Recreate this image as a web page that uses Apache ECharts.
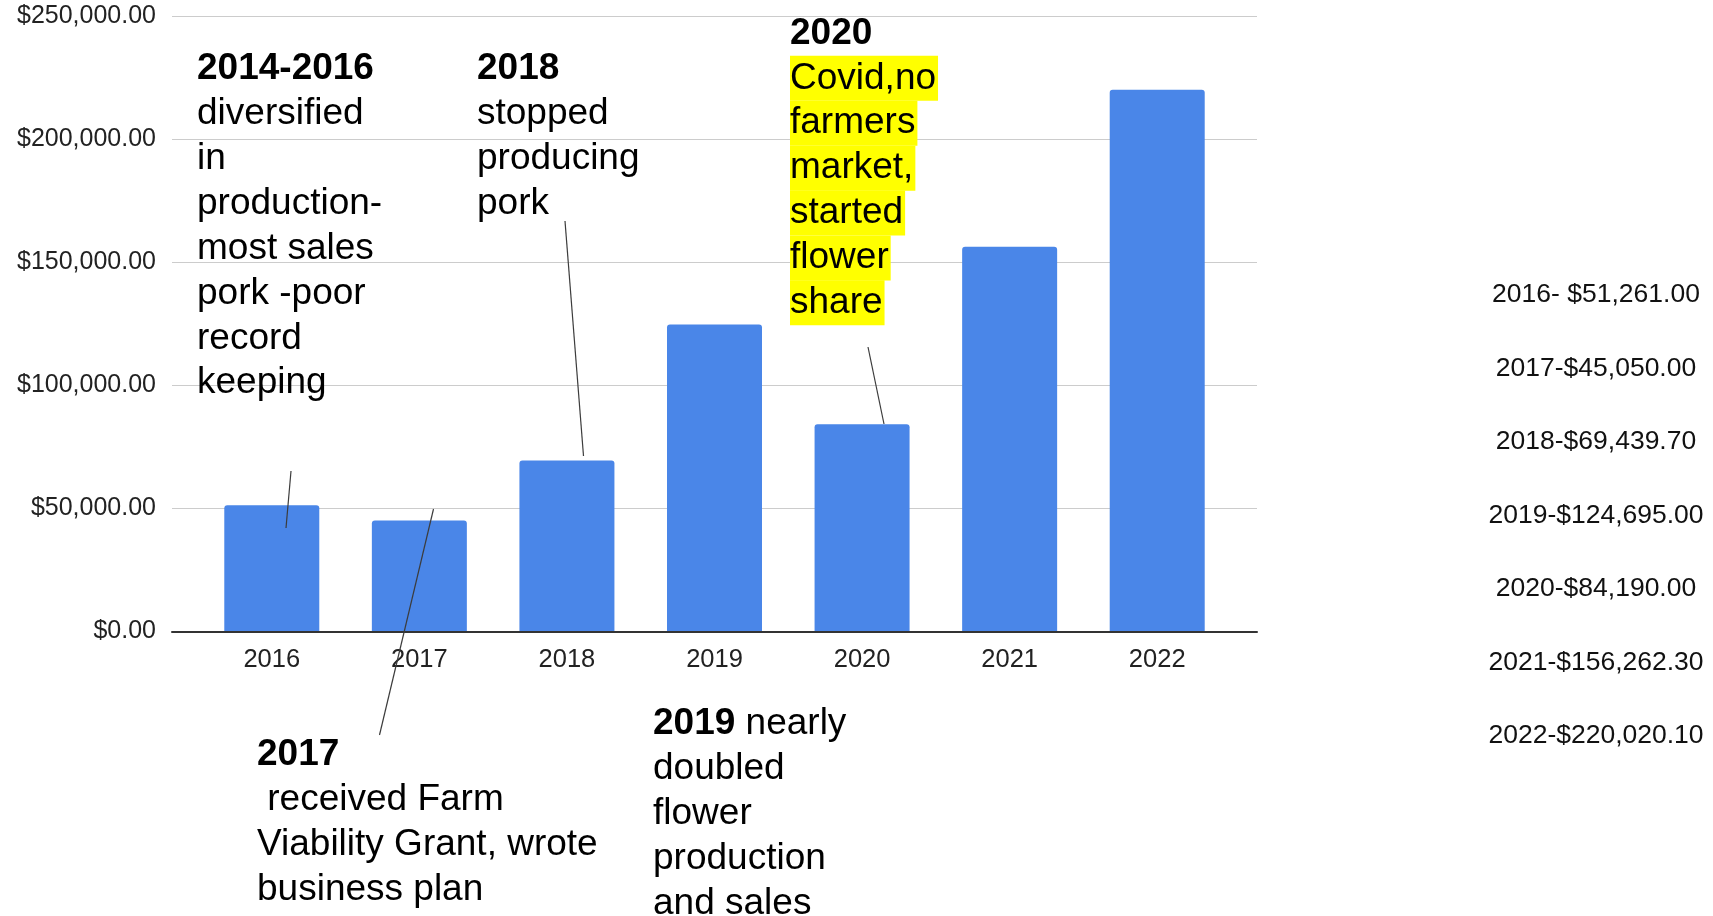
<!DOCTYPE html>
<html>
<head>
<meta charset="utf-8">
<style>
  html, body { margin: 0; padding: 0; background: #ffffff; }
  #chart { width: 1713px; height: 916px; }
</style>
<script src="https://cdn.jsdelivr.net/npm/echarts@6/dist/echarts.min.js"></script>
</head>
<body>
<div id="chart"></div>
<script>
// Yearly farm revenue
const years = ['2016', '2017', '2018', '2019', '2020', '2021', '2022'];
const revenue = [51261.00, 45050.00, 69439.70, 124695.00, 84190.00, 156262.30, 220020.10];

// Value axis range and step
const yMin = 0;
const yMax = 250000;
const yStep = 50000;

// Milestone notes placed around the bars
const noteEarly = ['2014-2016', 'diversified', 'in', 'production-', 'most sales', 'pork -poor', 'record', 'keeping'];
const note2017 = ['2017', ' received Farm', 'Viability Grant, wrote', 'business plan'];
const note2018 = ['2018', 'stopped', 'producing', 'pork'];
const note2019 = ['2019', ' nearly', 'doubled', 'flower', 'production', 'and sales'];
const note2020 = ['2020', 'Covid,no', 'farmers', 'market,', 'started', 'flower', 'share'];

const FONT = "'Liberation Sans', Arial, Helvetica, sans-serif";
const money = v => '$' + v.toLocaleString('en-US', { minimumFractionDigits: 2, maximumFractionDigits: 2 });

// Side list of yearly totals, built from the same values as the bars
const summaryLines = years.map((y, i) => y + (i === 0 ? '- ' : '-') + money(revenue[i]));

const NOTE_SIZE = 37;
const NOTE_LH = 44.9;
const richStyles = {
  b: { fontFamily: FONT, fontSize: NOTE_SIZE, fontWeight: 'bold', lineHeight: NOTE_LH, fill: '#000' },
  r: { fontFamily: FONT, fontSize: NOTE_SIZE, lineHeight: NOTE_LH, fill: '#000' },
  h: { fontFamily: FONT, fontSize: NOTE_SIZE, lineHeight: NOTE_LH, fill: '#000',
       backgroundColor: '#ffff00', padding: [4, 2, 4, 0] }
};

function noteText(x, y, text) {
  return {
    type: 'text', x: x, y: y, z: 10,
    style: { text: text, rich: richStyles, textVerticalAlign: 'top', textAlign: 'left', fill: '#000' }
  };
}
function leader(x1, y1, x2, y2) {
  return {
    type: 'line', z: 11,
    shape: { x1: x1, y1: y1, x2: x2, y2: y2 },
    style: { stroke: '#3c3c3c', lineWidth: 1.2 }
  };
}
const lines = (tag, arr) => arr.map(s => '{' + tag + '|' + s + '}').join('\n');

const chart = echarts.init(document.getElementById('chart'), null, { renderer: 'canvas' });

const option = {
  backgroundColor: '#ffffff',
  animation: false,
  grid: [
    // wide frame: gridlines, baseline and value labels
    { left: 172, right: 456, top: 16, bottom: 284.5, containLabel: false },
    // category band holding the bars
    { left: 198, right: 482, top: 16, bottom: 284.5, containLabel: false }
  ],
  xAxis: [
    {
      gridIndex: 0, type: 'category', data: years,
      axisLabel: { show: false }, axisTick: { show: false },
      axisLine: { show: true, lineStyle: { color: '#333333', width: 2 } },
      z: 5
    },
    {
      gridIndex: 1, type: 'category', data: years,
      axisLine: { show: false }, axisTick: { show: false },
      axisLabel: { fontFamily: FONT, fontSize: 25.5, lineHeight: 26, color: '#222222', margin: 15 }
    }
  ],
  yAxis: [
    {
      gridIndex: 0, type: 'value', min: yMin, max: yMax, interval: yStep,
      axisLine: { show: false }, axisTick: { show: false },
      splitLine: { show: true, lineStyle: { color: '#cccccc', width: 1.2 } },
      axisLabel: { fontFamily: FONT, fontSize: 25, color: '#222222', margin: 16, formatter: v => money(v) }
    },
    {
      gridIndex: 1, type: 'value', min: yMin, max: yMax, interval: yStep,
      show: false, splitLine: { show: false }
    }
  ],
  series: [
    {
      type: 'bar', xAxisIndex: 1, yAxisIndex: 1,
      data: revenue, barWidth: 95,
      itemStyle: { color: '#4a86e8', borderRadius: [3, 3, 0, 0] },
      z: 2
    }
  ],
  graphic: [
    noteText(197, 46.5, '{b|' + noteEarly[0] + '}\n' + lines('r', noteEarly.slice(1))),
    noteText(477, 46.5, '{b|' + note2018[0] + '}\n' + lines('r', note2018.slice(1))),
    noteText(790, 11, '{b|' + note2020[0] + '}\n' + lines('h', note2020.slice(1))),
    noteText(257, 732.5, '{b|' + note2017[0] + '}\n' + lines('r', note2017.slice(1))),
    noteText(653, 701.5, '{b|' + note2019[0] + '}{r|' + note2019[1] + '}\n' + lines('r', note2019.slice(2))),
    leader(291, 471, 286, 528),
    leader(433.5, 509, 379.5, 735),
    leader(565, 221, 583.5, 456),
    leader(868, 347, 884, 424),
    {
      type: 'text', x: 1596, y: 258.3, z: 10,
      style: {
        text: summaryLines.join('\n'),
        fontFamily: FONT, fontSize: 26.5, lineHeight: 73.5,
        fill: '#111111', textAlign: 'center', textVerticalAlign: 'top'
      }
    }
  ]
};

chart.setOption(option);
</script>
</body>
</html>
